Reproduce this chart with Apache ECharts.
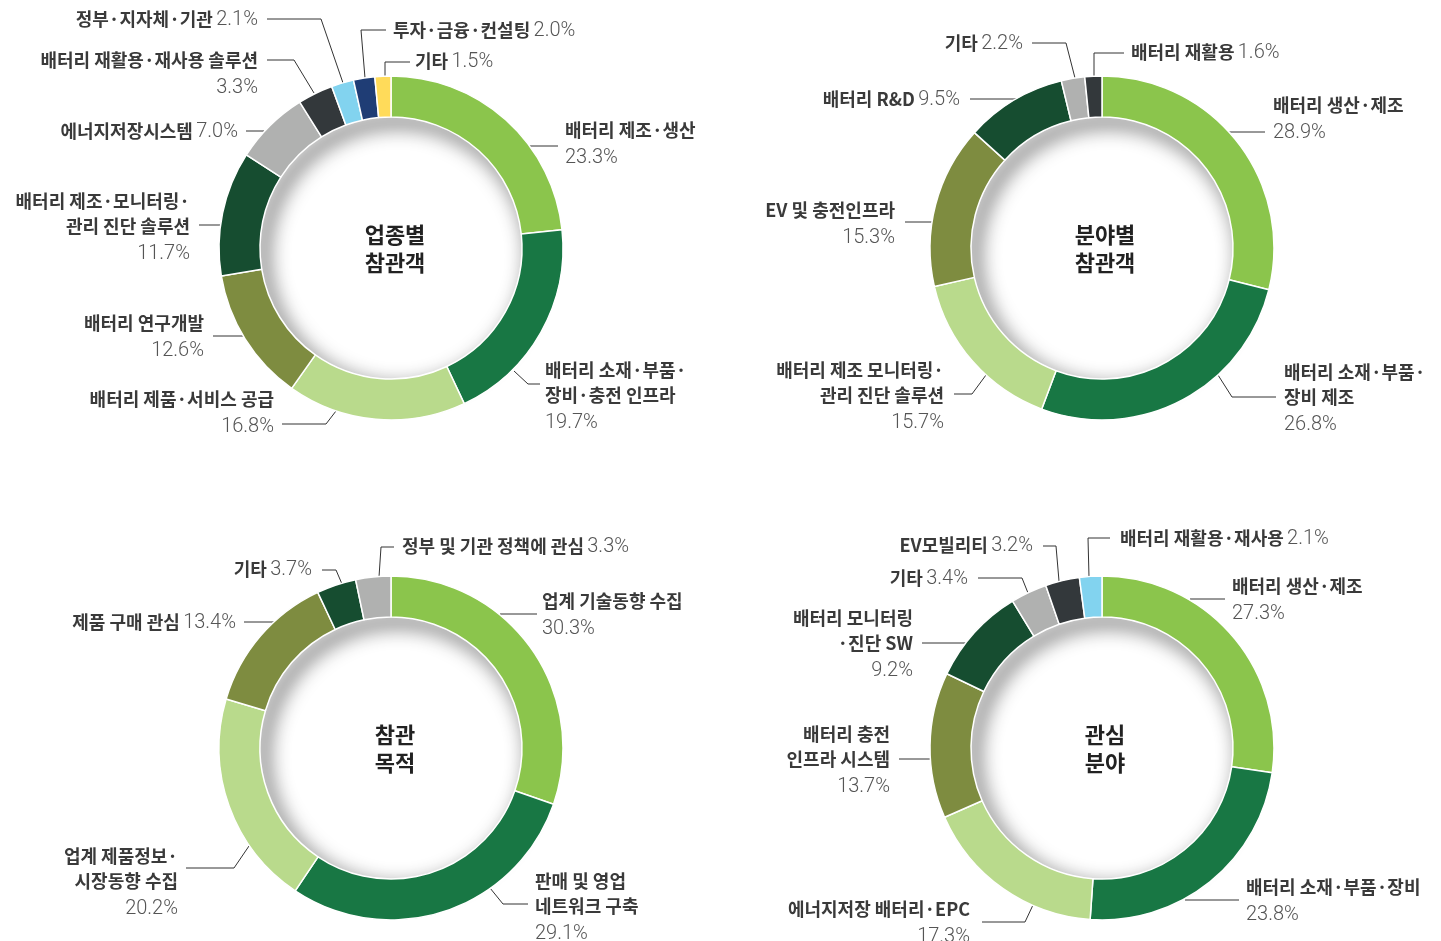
<!DOCTYPE html>
<html>
<head>
<meta charset="utf-8">
<script src="https://cdn.jsdelivr.net/npm/echarts@6/dist/echarts.min.js"></script>
<style>
html,body{margin:0;padding:0;background:#fff}
#main{width:1441px;height:941px}
</style>
</head>
<body>
<div id="main"></div>
<script>
// 업종별 참관객
var industryNames = ['배터리 제조·생산', '배터리 소재·부품·\n장비·충전 인프라', '배터리 제품·서비스 공급', '배터리 연구개발',
    '배터리 제조·모니터링·\n관리 진단 솔루션', '에너지저장시스템', '배터리 재활용·재사용 솔루션', '정부·지자체·기관', '투자·금융·컨설팅', '기타'];
var industryValues = [23.3, 19.7, 16.8, 12.6, 11.7, 7.0, 3.3, 2.1, 2.0, 1.5];

// 분야별 참관객
var fieldNames = ['배터리 생산·제조', '배터리 소재·부품·\n장비 제조', '배터리 제조 모니터링·\n관리 진단 솔루션', 'EV 및 충전인프라',
    '배터리 R&D', '기타', '배터리 재활용'];
var fieldValues = [28.9, 26.8, 15.7, 15.3, 9.5, 2.2, 1.6];

// 참관 목적
var purposeNames = ['업계 기술동향 수집', '판매 및 영업\n네트워크 구축', '업계 제품정보·\n시장동향 수집', '제품 구매 관심', '기타', '정부 및 기관 정책에 관심'];
var purposeValues = [30.3, 29.1, 20.2, 13.4, 3.7, 3.3];

// 관심 분야
var interestNames = ['배터리 생산·제조', '배터리 소재·부품·장비', '에너지저장 배터리·EPC', '배터리 충전\n인프라 시스템',
    '배터리 모니터링\n·진단 SW', '기타', 'EV모빌리티', '배터리 재활용·재사용'];
var interestValues = [27.3, 23.8, 17.3, 13.7, 9.2, 3.4, 3.2, 2.1];

var LIGHT = '#8bc54c', DARK = '#187744', PALE = '#b9da8c', OLIVE = '#7e8c40', DEEP = '#164d30',
    GRAY = '#b0b1b0', CHAR = '#33383b', SKY = '#82d3ef', NAVY = '#1f3d75', YELLOW = '#ffdb5a';

var industryColors = [LIGHT, DARK, PALE, OLIVE, DEEP, GRAY, CHAR, SKY, NAVY, YELLOW];
var fieldColors = [LIGHT, DARK, PALE, OLIVE, DEEP, GRAY, CHAR];
var purposeColors = [LIGHT, DARK, PALE, OLIVE, DEEP, GRAY];
var interestColors = [LIGHT, DARK, PALE, OLIVE, DEEP, GRAY, CHAR, SKY];

// 라벨 위치 (텍스트 좌상단 기준, 지시선 3점)
var industryPos = [
    {x: 565, y: 118, align: 'left', line: [[530, 146], [545, 146], [558, 146]]},
    {x: 545, y: 358, align: 'left', line: [[514, 371], [528, 384], [540, 384]]},
    {x: 274, y: 387, align: 'right', line: [[336, 411], [326, 424], [282, 424]]},
    {x: 204, y: 311, align: 'right', line: [[243, 336], [228, 336], [213, 336]]},
    {x: 190, y: 189, align: 'right', line: [[220, 225], [210, 225], [199, 225]]},
    {x: 238, y: 119, align: 'right', inline: true, line: [[264, 131], [255, 131], [246, 131]]},
    {x: 258, y: 48, align: 'right', line: [[314, 93], [294, 60], [267, 60]]},
    {x: 258, y: 7, align: 'right', inline: true, line: [[343, 83], [321, 19], [267, 19]]},
    {x: 393, y: 18, align: 'left', inline: true, line: [[365, 78], [361, 30], [386, 30]]},
    {x: 415, y: 49, align: 'left', inline: true, line: [[385, 76], [385, 62], [410, 62]]}
];
var fieldPos = [
    {x: 1273, y: 93, align: 'left', line: [[1229, 132], [1245, 132], [1265, 132]]},
    {x: 1284, y: 360, align: 'left', line: [[1218, 375], [1232, 397], [1276, 397]]},
    {x: 944, y: 358, align: 'right', line: [[986, 375], [972, 394], [954, 394]]},
    {x: 895, y: 198, align: 'right', line: [[932, 222], [918, 222], [905, 222]]},
    {x: 960, y: 87, align: 'right', inline: true, line: [[1016, 99], [990, 99], [970, 99]]},
    {x: 1023, y: 31, align: 'right', inline: true, line: [[1075, 78], [1066, 43], [1032, 43]]},
    {x: 1131, y: 40, align: 'left', inline: true, line: [[1094, 76], [1094, 53], [1124, 53]]}
];
var purposePos = [
    {x: 542, y: 589, align: 'left', line: [[500, 614], [520, 614], [537, 614]]},
    {x: 535, y: 869, align: 'left', line: [[490, 888], [503, 904], [528, 904]]},
    {x: 178, y: 844, align: 'right', line: [[249, 846], [234, 868], [186, 868]]},
    {x: 236, y: 610, align: 'right', inline: true, line: [[274, 622], [258, 622], [244, 622]]},
    {x: 312, y: 557, align: 'right', inline: true, line: [[342, 584], [336, 570], [322, 570]]},
    {x: 402, y: 534, align: 'left', inline: true, line: [[379, 577], [381, 547], [394, 547]]}
];
var interestPos = [
    {x: 1232, y: 574, align: 'left', line: [[1190, 599], [1208, 599], [1225, 599]]},
    {x: 1246, y: 875, align: 'left', line: [[1185, 900], [1210, 900], [1239, 900]]},
    {x: 970, y: 897, align: 'right', line: [[1033, 905], [1025, 922], [982, 922]]},
    {x: 890, y: 722, align: 'right', line: [[930, 759], [915, 759], [899, 759]]},
    {x: 913, y: 606, align: 'right', line: [[966, 643], [945, 643], [922, 643]]},
    {x: 968, y: 566, align: 'right', inline: true, line: [[1028, 593], [1022, 578], [978, 578]]},
    {x: 1033, y: 533, align: 'right', inline: true, line: [[1059, 581], [1056, 546], [1043, 546]]},
    {x: 1120, y: 526, align: 'left', inline: true, line: [[1089, 577], [1088, 538], [1110, 538]]}
];

var INNER = 131, OUTER = 172;

function labelText(name, value, inline) {
    var v = '{v|' + value.toFixed(1) + '%}';
    if (inline) {
        return '{n|' + name + '} {w|' + value.toFixed(1) + '%}';
    }
    var lines = name.split('\n').map(function (s) { return '{n|' + s + '}'; });
    return lines.join('\n') + '\n' + v;
}

function makeDonut(center, names, values, colors, pos) {
    var data = names.map(function (n, i) {
        return {name: n, value: values[i], itemStyle: {color: colors[i]}};
    });
    // 안쪽 그림자
    var shadow = {
        type: 'pie',
        z: 1,
        silent: true,
        center: center,
        radius: [INNER, INNER + 8],
        startAngle: 90,
        label: {show: false},
        labelLine: {show: false},
        itemStyle: {
            color: '#ffffff',
            shadowBlur: 20,
            shadowColor: 'rgba(0,0,0,0.85)',
            shadowOffsetX: 7,
            shadowOffsetY: 8
        },
        data: [1]
    };
    var ring = {
        type: 'pie',
        z: 2,
        silent: true,
        center: center,
        radius: [INNER, OUTER],
        startAngle: 90,
        clockwise: true,
        avoidLabelOverlap: false,
        itemStyle: {borderColor: '#ffffff', borderWidth: 1.5},
        label: {
            show: true,
            position: 'outside',
            formatter: function (p) {
                return labelText(p.name, p.value, pos[p.dataIndex].inline);
            },
            rich: {
                n: {fontFamily: '"Noto Sans CJK KR"', fontWeight: 'bold', fontSize: 18, color: '#3a3a3a', lineHeight: 25},
                v: {fontFamily: 'Roboto', fontWeight: 300, fontSize: 20, color: '#555555', lineHeight: 29},
                w: {fontFamily: 'Roboto', fontWeight: 300, fontSize: 20, color: '#555555', lineHeight: 25}
            }
        },
        labelLine: {show: true, lineStyle: {color: '#333333', width: 1}},
        labelLayout: function (params) {
            var q = pos[params.dataIndex];
            return {
                x: q.x,
                y: q.y,
                align: q.align,
                verticalAlign: 'top',
                labelLinePoints: q.line
            };
        },
        data: data
    };
    return [shadow, ring];
}

function centerText(x, y, text) {
    return {
        type: 'text',
        x: x,
        y: y,
        z: 10,
        style: {
            text: text,
            fontFamily: '"Noto Sans CJK KR"',
            fontWeight: 'bold',
            fontSize: 22,
            lineHeight: 28,
            fill: '#222222',
            align: 'center',
            verticalAlign: 'middle'
        }
    };
}

var chart = echarts.init(document.getElementById('main'));
var option = {
    backgroundColor: '#ffffff',
    animation: false,
    series: [].concat(
        makeDonut([391, 248], industryNames, industryValues, industryColors, industryPos),
        makeDonut([1102, 248], fieldNames, fieldValues, fieldColors, fieldPos),
        makeDonut([391, 748], purposeNames, purposeValues, purposeColors, purposePos),
        makeDonut([1102, 748], interestNames, interestValues, interestColors, interestPos)
    ),
    graphic: [
        centerText(395, 249, '업종별\n참관객'),
        centerText(1105, 249, '분야별\n참관객'),
        centerText(395, 749, '참관\n목적'),
        centerText(1105, 749, '관심\n분야')
    ]
};
chart.setOption(option);
</script>
</body>
</html>
